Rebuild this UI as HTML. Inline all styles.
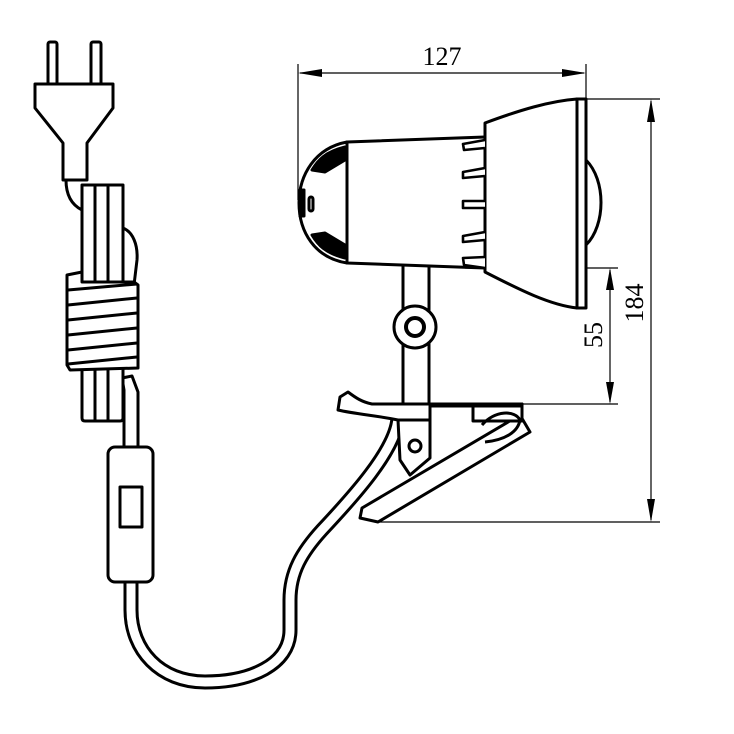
<!DOCTYPE html>
<html><head><meta charset="utf-8"><style>html,body{margin:0;padding:0;background:#fff}svg{display:block}</style></head>
<body>
<svg width="734" height="734" viewBox="0 0 734 734" xmlns="http://www.w3.org/2000/svg">
<g fill="none" stroke="#000" stroke-width="1.2">
  <line x1="298" y1="64" x2="298" y2="200"/>
  <line x1="586" y1="64" x2="586" y2="99"/>
  <line x1="300" y1="73" x2="584" y2="73"/>
  <line x1="586" y1="99" x2="660" y2="99"/>
  <line x1="651" y1="101" x2="651" y2="520"/>
  <line x1="378" y1="522" x2="660" y2="522"/>
  <line x1="465" y1="268" x2="618" y2="268"/>
  <line x1="522" y1="404" x2="618" y2="404"/>
  <line x1="610" y1="270" x2="610" y2="402"/>
</g>
<g fill="#000">
  <polygon points="298,73 322,69 322,77"/>
  <polygon points="586,73 562,69 562,77"/>
  <polygon points="651,99 647,122 655,122"/>
  <polygon points="651,522 647,499 655,499"/>
  <polygon points="610,268 606,290 614,290"/>
  <polygon points="610,404 606,382 614,382"/>
</g>
<g font-family="Liberation Serif, serif" font-size="26" fill="#000">
  <text x="442" y="65" text-anchor="middle">127</text>
  <text transform="translate(643,303) rotate(-90)" text-anchor="middle">184</text>
  <text transform="translate(602,335) rotate(-90)" text-anchor="middle">55</text>
</g>

<g fill="#fff" stroke="#000" stroke-width="3" stroke-linejoin="round">
  <path d="M398,418 C396,450 352,498 322,530 C302,552 290,572 290,600 L290,630 C290,665 250,682 205,682 C160,682 131,650 131,610 L131,580" stroke-width="15" fill="none"/>
  <path d="M398,418 C396,450 352,498 322,530 C302,552 290,572 290,600 L290,630 C290,665 250,682 205,682 C160,682 131,650 131,610 L131,580" stroke="#fff" stroke-width="9" fill="none"/>
  <path d="M124,450 L124,390 L122,378 L132,376 L138,392 L138,450 Z"/>
  <rect x="108" y="447" width="45" height="135" rx="7"/>
  <rect x="120" y="487" width="22" height="40"/>

  <rect x="48" y="42" width="9" height="44" rx="2"/>
  <rect x="91" y="42" width="10" height="44" rx="2"/>
  <path d="M35,84 L113,84 L113,108 L87,143 L87,180 L63,180 L63,143 L35,108 Z"/>
  <path d="M66,180 C66,195 72,205 82,210" fill="none"/>
  <path d="M123,228 C133,232 138,245 137,260 L134,285 L120,285 Z"/>
  <path d="M82,185 L123,185 L123,418 Q123,421 120,421 L85,421 Q82,421 82,418 Z"/>
  <line x1="95" y1="185" x2="95" y2="421"/>
  <line x1="108" y1="185" x2="108" y2="421"/>
  <path d="M67,275 L82,272 L82,282 L134,282 L138,285 L138,368 L70,370 L67,365 Z"/>
  <path d="M68,290 L137,284 M68,305 L137,298 M68,320 L137,313 M68,335 L137,328 M68,350 L137,343 M68,364 L137,357" fill="none"/>

  <rect x="403" y="262" width="26" height="142"/>
  <circle cx="415" cy="327" r="21" stroke-width="3"/>
  <circle cx="415" cy="327" r="9" stroke-width="4"/>

  <path d="M485,123 C520,110 550,101 577,99 L577,308 C550,305 520,290 485,272 Z"/>
  <rect x="577" y="99" width="9" height="209"/>
  <path d="M586,160 C606,180 606,225 586,245" fill="none"/>
  <path d="M347,142 L485,137 L485,268 L347,263 Z"/>
  <path d="M347,142 C315,148 299,175 299,203 C299,232 315,258 347,263 Z"/>
  <path d="M345,147 C325,152 318,160 312,170 L325,172 L345,160 Z M345,258 C325,253 318,245 312,235 L325,233 L345,245 Z" fill="#000"/>
  <path d="M300,190 L304,190 L304,216 L300,216 Z" fill="#000"/>
  <rect x="309" y="197" width="4" height="14" rx="2"/>
  <g stroke-width="2.6">
    <path d="M485,140 L463,144 L464,150 L485,148"/>
    <path d="M485,168 L463,172 L463,178 L485,176"/>
    <path d="M485,201 L463,201 L463,208 L485,208"/>
    <path d="M485,232 L463,236 L463,242 L485,240"/>
    <path d="M485,257 L463,258 L464,265 L485,268"/>
  </g>

  <path d="M378,522 L530,432 L520,415 L362,508 L360,518 Z"/>
  <path d="M398,420 L430,420 L430,458 L410,475 L400,460 Z"/>
  <circle cx="415" cy="446" r="6"/>
  <rect x="473" y="404" width="49" height="17"/>
  <path d="M482,425 C495,410 515,410 520,420 C518,432 505,440 485,442" fill="none" stroke-width="3"/>
  <path d="M340,397 L348,392 C356,398 362,402 372,404 L522,404 L522,406 L430,406 L430,420 L398,420 C380,416 355,414 338,410 Z"/>
</g>
</svg>
</body></html>
